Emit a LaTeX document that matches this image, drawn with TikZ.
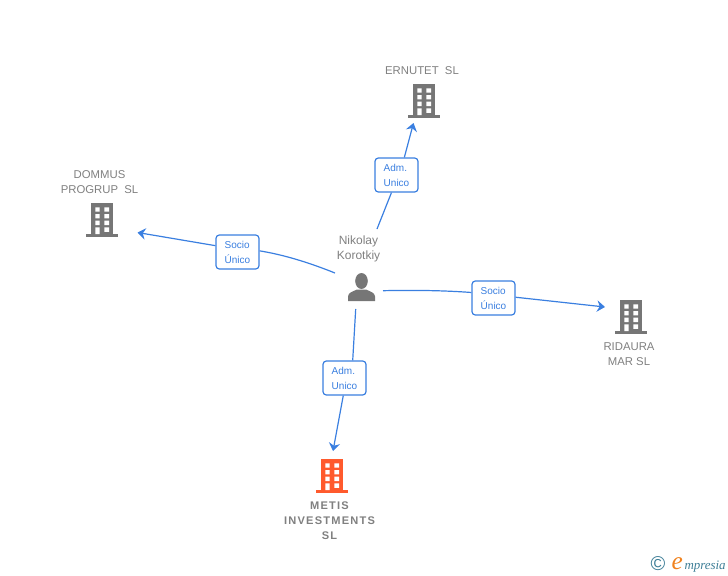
\documentclass[tikz,border=0pt]{standalone}
\usepackage{fontspec}
\setmainfont{Liberation Sans}
\newfontfamily\logofont{Liberation Serif}
\usetikzlibrary{arrows.meta}

\definecolor{linkblue}{RGB}{58,127,224}
\definecolor{namegray}{RGB}{128,128,128}
\definecolor{icongray}{RGB}{118,118,118}
\definecolor{iconorange}{RGB}{255,90,45}
\definecolor{logoteal}{RGB}{60,125,150}
\definecolor{logoorange}{RGB}{240,130,30}

\tikzset{every picture/.style={line width=0.75pt}}
\tikzset{
  rolebox/.style={draw=linkblue,fill=white,rounded corners=2.5pt,line width=0.9pt,minimum width=32.25pt,minimum height=25.5pt,inner sep=0pt,align=left,text=linkblue,font=\fontsize{7.5}{11.25}\selectfont},
  link/.style={draw=linkblue,line width=0.9pt},
  linkarrow/.style={link,-{Stealth[length=6pt,width=8.5pt,inset=2pt]}},
  company/.style={inner sep=0.75pt,align=center,text=namegray,font=\fontsize{8.5}{11.25}\selectfont},
  pics/building/.style={code={
    \fill [#1] (-11,34) rectangle (11,2);
    \fill [#1] (-16,3) rectangle (16,0);
    \fill [white] (-6.7,29.7) rectangle (-2.3,25.4) (2.3,29.7) rectangle (7,25.4);
    \fill [white] (-6.7,23) rectangle (-2.3,18.7) (2.3,23) rectangle (7,18.7);
    \fill [white] (-6.7,16.4) rectangle (-2.3,12) (2.3,16.4) rectangle (7,12);
    \fill [white] (-6.7,9.7) rectangle (-2.3,3) (2.3,9.7) rectangle (7,5.2);
  }}
}

\begin{document}
\begin{tikzpicture}[x=0.75pt,y=0.75pt,yscale=-1,xscale=1]
\useasboundingbox (0,0) rectangle (728,575);

%Buildings
\draw (424,118) pic {building=icongray};
\draw (102,237) pic {building=icongray};
\draw (631,334) pic {building=icongray};
\draw (332,493) pic {building=iconorange};

%Person
\fill [icongray] (361.5,281) ellipse (6.3 and 8);
\fill [icongray] (348,301) -- (348,296.5) .. controls (348,292.5) and (353,291.5) .. (357,289.5) -- (366,289.5) .. controls (370,291.5) and (375,292.5) .. (375,296.5) -- (375,301) -- cycle;

% Text Node
\draw (396.5,175) node [rolebox] (admErnutet) {Adm.\\Unico};
% Text Node
\draw (237.5,252) node [rolebox] (socioDommus) {Socio\\Único};
% Text Node
\draw (493.5,298) node [rolebox] (socioRidaura) {Socio\\Único};
% Text Node
\draw (344.5,378) node [rolebox] (admMetis) {Adm.\\Unico};

%Free ends of the connectors
\coordinate (hubTop) at (377,229);
\coordinate (hubLeft) at (335,273);
\coordinate (hubRight) at (383,290.7);
\coordinate (hubBottom) at (355.7,309);
\coordinate (tipErnutet) at (413.5,123);
\coordinate (tipDommus) at (137.5,232.5);
\coordinate (tipRidaura) at (605,307);
\coordinate (tipMetis) at (333,451);

%Connectors
\draw [link] (hubTop) -- (admErnutet.254);
\draw [linkarrow] (admErnutet.66) -- (tipErnutet);
\draw [link] (hubLeft) .. controls (310,263) and (285,255) .. (socioDommus.3.5);
\draw [linkarrow] (socioDommus.164) -- (tipDommus);
\draw [link] (hubRight) .. controls (415,290) and (445,290.5) .. (socioRidaura.166);
\draw [linkarrow] (socioRidaura.2) -- (tipRidaura);
\draw [link] (hubBottom) -- (admMetis.65);
\draw [linkarrow] (admMetis.266) -- (tipMetis);

% Text Node
\draw (422,71) node [company] (ernutet) {ERNUTET\ \ SL};
% Text Node
\draw (99.5,182.5) node [company] (dommus) {DOMMUS\\PROGRUP\ \ SL};
% Text Node
\draw (358.5,248.5) node [company,font=\fontsize{9}{11.25}\selectfont] (nikolay) {Nikolay\\Korotkiy};
% Text Node
\draw (629,354) node [company] (ridaura) {RIDAURA\\MAR SL};
% Text Node
\draw (329.5,521) node [company,font=\fontsize{8.3}{11.25}\selectfont\bfseries\addfontfeature{LetterSpace=11}] (metis) {METIS\\INVESTMENTS\\SL};

%Logo
\draw (658,564) node [inner sep=0pt,text=logoteal,font=\fontsize{15}{15}\selectfont] (logoMark) {©};
\draw (671,569) node [anchor=base west,inner sep=0pt,text=logoorange,font=\logofont\itshape\fontsize{19}{19}\selectfont] (logoE) {e};
\draw (684,569) node [anchor=base west,inner sep=0pt,text=logoteal,font=\logofont\itshape\fontsize{9.7}{9.7}\selectfont] (logoName) {mpresia};

\end{tikzpicture}
\end{document}
